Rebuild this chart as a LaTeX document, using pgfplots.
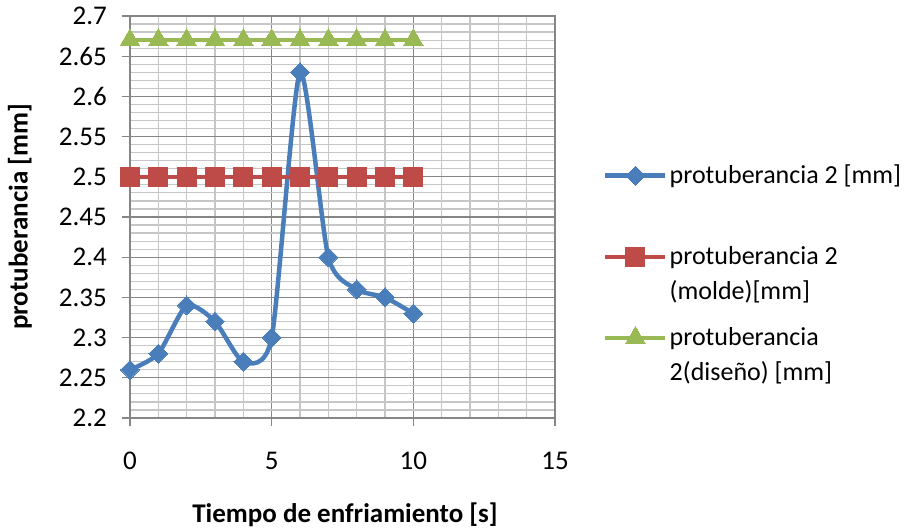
\documentclass[border=0pt]{standalone}
\usepackage{fontspec}
\setmainfont{Carlito}
\usepackage{pgfplots}
\pgfplotsset{compat=1.18}
\definecolor{cblue}{HTML}{4A7EBB}
\definecolor{cred}{HTML}{BE4B48}
\definecolor{cgreen}{HTML}{98B954}
\definecolor{gmaj}{HTML}{868686}
\definecolor{gmin}{HTML}{C6C6C6}
\begin{document}
\fontsize{27}{32}\selectfont
\begin{tikzpicture}
\path[use as bounding box] (-130pt,-111pt) rectangle (775pt,418pt);
\begin{axis}[
  scale only axis, width=425pt, height=402pt,
  at={(0pt,0pt)}, anchor=south west,
  xmin=0, xmax=15, ymin=2.2, ymax=2.7,
  xtick={0,5,10,15},
  ytick={2.2,2.25,2.3,2.35,2.4,2.45,2.5,2.55,2.6,2.65,2.7},
  minor x tick num=4, minor y tick num=4,
  grid=both,
  major grid style={gmaj, line width=1.2pt},
  minor grid style={gmin, line width=1.2pt},
  axis line style={gmaj, line width=1.2pt},
  tick style={gmaj, line width=1.2pt},
  tick align=outside, tick pos=left,
  major tick length=8pt, minor tick length=0pt,
  /pgf/number format/assume math mode=true,
  ticklabel style={font=\fontsize{27}{32}\selectfont},
  xticklabel style={yshift=-17pt},
  yticklabel style={xshift=-6pt, /pgf/number format/fixed, /pgf/number format/precision=2},
  xlabel={\textbf{Tiempo de enfriamiento [s]}},
  ylabel={\textbf{protuberancia [mm]}},
  xlabel style={at={(axis description cs:0.506,-0.2413)}, anchor=center, font=\fontsize{27}{32}\selectfont},
  ylabel style={at={(axis description cs:-0.2588,0.5)}, anchor=center, font=\fontsize{27}{32}\selectfont},
  legend style={at={(axis description cs:1.113,0.356)}, anchor=west, draw=none, fill=none,
    font=\fontsize{26}{35}\selectfont, row sep=20pt, inner sep=0pt,
    cells={anchor=base west, align=left, inner xsep=1pt}},
  legend image code/.code={
    \draw[mark repeat=2, mark phase=2, yshift=43pt, #1] plot coordinates {(0pt,0pt) (30pt,0pt) (60pt,0pt)};
  },
]
\addplot[cblue, line width=4.5pt, smooth, tension=0.4, mark=square*, mark size=6.7pt,
  mark options={rotate=45, solid, fill=cblue, draw=cblue, line width=0pt}]
  coordinates {(0,2.26) (1,2.28) (2,2.34) (3,2.32) (4,2.27) (5,2.30) (6,2.63) (7,2.40) (8,2.36) (9,2.35) (10,2.33)};
\addlegendentry{protuberancia 2 [mm]\\\strut}
\addplot[cred, line width=4.5pt, mark=square*, mark size=9.5pt,
  mark options={solid, fill=cred, draw=cred, line width=0pt}]
  coordinates {(0,2.5) (1,2.5) (2,2.5) (3,2.5) (4,2.5) (5,2.5) (6,2.5) (7,2.5) (8,2.5) (9,2.5) (10,2.5)};
\addlegendentry{protuberancia 2\\(molde)[mm]}
\addplot[cgreen, line width=4.5pt, mark=triangle*, mark size=11.5pt,
  mark options={solid, fill=cgreen, draw=cgreen, line width=0pt}]
  coordinates {(0,2.67) (1,2.67) (2,2.67) (3,2.67) (4,2.67) (5,2.67) (6,2.67) (7,2.67) (8,2.67) (9,2.67) (10,2.67)};
\addlegendentry{protuberancia\\2(diseño) [mm]}
\end{axis}
\end{tikzpicture}
\end{document}
